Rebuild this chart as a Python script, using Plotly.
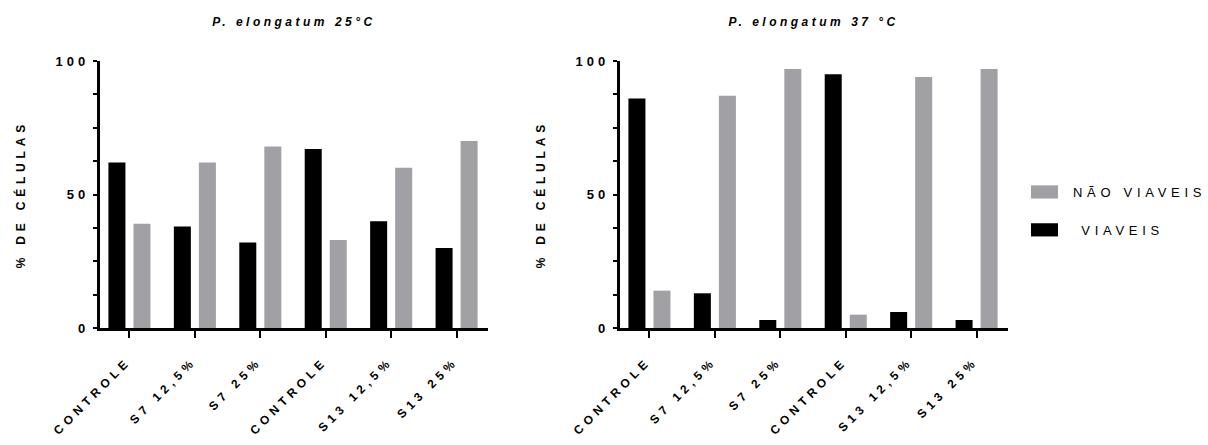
import plotly.graph_objects as go

categories = ["CONTROLE", "S7 12,5%", "S7 25%", "CONTROLE", "S13 12,5%", "S13 25%"]
viaveis_25 = [62, 38, 32, 67, 40, 30]
nao_viaveis_25 = [39, 62, 68, 33, 60, 70]
viaveis_37 = [86, 13, 3, 95, 6, 3]
nao_viaveis_37 = [14, 87, 97, 5, 94, 97]
titles = ["P. elongatum 25°C", "P. elongatum 37 °C"]
y_title = "% DE CÉLULAS"
legend_names = ["NÃO VIAVEIS", "\u00a0VIAVEIS"]
major_ticks = [0, 50, 100]
minor_ticks = [12.5, 25, 37.5, 62.5, 75, 87.5]

BLACK = "#000000"
GRAY = "#a1a1a5"
FONT = "Arial, Liberation Sans, sans-serif"

xpos = list(range(len(categories)))
all_ticks = sorted(major_ticks + minor_ticks)
all_text = [f"{v:g}" if v in major_ticks else "" for v in all_ticks]

fig = go.Figure()
panels = [("x", "y", viaveis_25, nao_viaveis_25, True),
          ("x2", "y2", viaveis_37, nao_viaveis_37, False)]
for xa, ya, viav, nao, show in panels:
    fig.add_trace(go.Bar(x=xpos, y=viav, name=legend_names[1], marker=dict(color=BLACK, line_width=0),
                         xaxis=xa, yaxis=ya, showlegend=show, legendgroup="v", legendrank=2))
    fig.add_trace(go.Bar(x=xpos, y=nao, name=legend_names[0], marker=dict(color=GRAY, line_width=0),
                         xaxis=xa, yaxis=ya, showlegend=show, legendgroup="n", legendrank=1))

W, H = 1208, 445
mt, mb = 61, 117
doms = [[100 / W, 488 / W], [620 / W, 1008 / W]]

xcommon = dict(tickmode="array", tickvals=xpos, ticktext=categories, range=[-0.45, 5.48],
               tickangle=-45, ticks="outside", ticklen=7, tickwidth=2, tickcolor="black",
               ticklabelstandoff=12, ticklabelshift=-2,
               showline=True, linewidth=2.5, linecolor="black", showgrid=False, zeroline=False,
               tickfont=dict(family=FONT, size=12, color="black", weight="bold"), fixedrange=True)
ycommon = dict(range=[0, 100], tickmode="array", tickvals=all_ticks, ticktext=all_text, ticks="outside",
               ticklen=4.5, tickwidth=2, tickcolor="black", showline=True, linewidth=2.5, linecolor="black",
               showgrid=False, zeroline=False, ticklabelstandoff=1,
               tickfont=dict(family=FONT, size=13, color="black", weight="bold"), fixedrange=True)
ymajor = dict(range=[0, 100], tickmode="array", tickvals=major_ticks, ticks="outside", ticklen=7,
              tickwidth=2, tickcolor="black", showticklabels=False, showline=False, showgrid=False,
              zeroline=False, side="left", fixedrange=True)

annotations = []
for d, t in zip(doms, titles):
    annotations.append(dict(text=t, xref="paper", yref="paper", x=(d[0] + d[1]) / 2,
                            y=(H - mb - 22) / (H - mt - mb),
                            xanchor="center", yanchor="middle", showarrow=False,
                            font=dict(family=FONT, size=12, color="black", weight="bold", style="italic")))
for x in [20 / W, 540 / W]:
    annotations.append(dict(text=y_title, xref="paper", yref="paper", x=x, y=0.5, textangle=-90,
                            xanchor="center", yanchor="middle", showarrow=False,
                            font=dict(family=FONT, size=12, color="black", weight="bold")))

fig.update_layout(
    width=W, height=H, margin=dict(l=0, r=0, t=mt, b=mb, autoexpand=False),
    paper_bgcolor="white", plot_bgcolor="white",
    barmode="group", bargap=0.235, bargroupgap=0.32,
    xaxis=dict(domain=doms[0], anchor="y", **xcommon),
    yaxis=dict(domain=[0, 1], anchor="x", **ycommon),
    xaxis2=dict(domain=doms[1], anchor="y2", **xcommon),
    yaxis2=dict(domain=[0, 1], anchor="x2", **ycommon),
    yaxis3=dict(overlaying="y", anchor="x", **ymajor),
    yaxis4=dict(overlaying="y2", anchor="x2", **ymajor),
    annotations=annotations,
    showlegend=True,
    legend=dict(x=1016 / W, y=(H - mb - 177) / (H - mt - mb), xanchor="left", yanchor="top",
                font=dict(family=FONT, size=13, color="black"), itemwidth=47,
                tracegroupgap=18, bgcolor="rgba(0,0,0,0)", borderwidth=0),
)

post = """
var s=document.createElement('style');
s.textContent='.legend .scrollbox{clip-path:none!important}'+
'.legendtext{letter-spacing:4.7px}'+
'.legend .legendpoints path{transform:translate(28.5px,0px) scale(2.25,1.1)}'+
'.xtick text,.x2tick text{letter-spacing:4.5px}'+
'.ytick text,.y2tick text{letter-spacing:4px}'+
'.annotation[data-index="0"] text,.annotation[data-index="1"] text{letter-spacing:3.5px}'+
'.annotation[data-index="2"] text,.annotation[data-index="3"] text{letter-spacing:4.8px}';
document.head.appendChild(s);
"""

fig.write_html("out.html", post_script=post, config={"displayModeBar": False})
